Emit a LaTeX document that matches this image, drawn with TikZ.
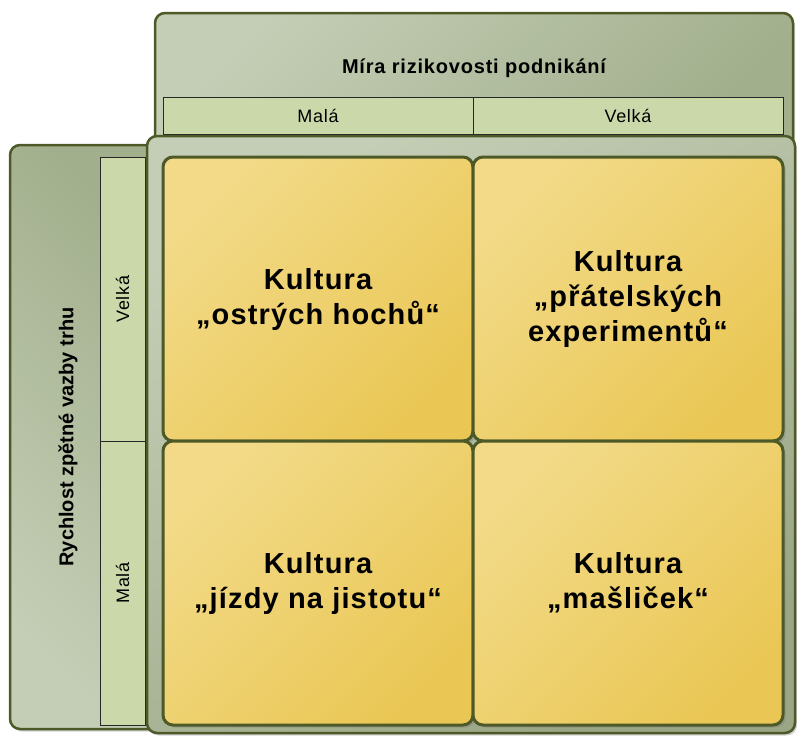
\documentclass[tikz,border=0pt]{standalone}
\usepackage{fontspec}
\setmainfont{Liberation Sans}
\usetikzlibrary{positioning,shadows}
\definecolor{mossline}{HTML}{4E5928}
\definecolor{sagelight}{HTML}{C4CEB6}
\definecolor{sagedark}{HTML}{A2AF8C}
\definecolor{cellgreen}{HTML}{CBD9AA}
\definecolor{goldlight}{HTML}{F2DA88}
\definecolor{golddark}{HTML}{EAC755}
\newcommand{\quadfont}{\fontsize{29}{35}\selectfont\bfseries\addfontfeature{LetterSpace=4}}
\newcommand{\titlefont}{\fontsize{20}{24}\selectfont\bfseries\addfontfeature{LetterSpace=4}}
\newcommand{\sidefont}{\fontsize{20}{24}\selectfont\bfseries}
\newcommand{\labfont}{\fontsize{18}{22}\selectfont\addfontfeature{LetterSpace=4}}

\begin{document}
\begin{tikzpicture}[x=1pt,y=-1pt,node distance=0pt,
 panel/.style={draw=mossline,line width=2.5pt,rounded corners=10pt,inner sep=0pt,outer sep=0pt,
  drop shadow={shadow xshift=2pt,shadow yshift=-2.5pt,opacity=.35}},
 hcell/.style={draw=black!85,line width=.8pt,fill=cellgreen,inner sep=0pt,outer sep=0pt,font=\labfont},
 quad/.style={draw=mossline,line width=3pt,rounded corners=10pt,inner sep=0pt,outer sep=0pt,
  top color=goldlight,bottom color=golddark,shading angle=45,align=center,font=\quadfont,
  minimum width=310pt,minimum height=284pt,
  drop shadow={shadow xshift=2.5pt,shadow yshift=-2.5pt,opacity=.4}}]
 \useasboundingbox (0,0) rectangle (797,736);
 % top header: risk
 \node[panel,top color=sagelight,bottom color=sagedark,shading angle=45,
  minimum width=638pt,minimum height=140pt,anchor=north west] (riskpanel) at (155,13) {};
 \node[font=\titlefont] (risktitle) at (474,68) {Míra rizikovosti podnikání};
 \node[hcell,minimum width=310pt,minimum height=37pt,anchor=north west] (lowrisk) at (163,97) {Malá};
 \node[hcell,minimum width=310pt,minimum height=37pt,right=of lowrisk] (highrisk) {Velká};
 % left header: feedback speed
 \node[panel,top color=sagedark,bottom color=sagelight,shading angle=-45,
  minimum width=150pt,minimum height=584pt,anchor=north west] (speedpanel) at (10,145) {};
 \node[font=\sidefont,rotate=90] (speedtitle) at (68,437) {Rychlost zpětné vazby trhu};
 \node[hcell,rotate=90,minimum width=284pt,minimum height=45pt] (fastfb) at (122.5,299) {Velká};
 \node[hcell,rotate=90,minimum width=284pt,minimum height=45pt] (slowfb) at (122.5,583) {Malá};
 % matrix
 \node[panel,top color=sagelight,bottom color=sagedark!95!black,shading angle=30,
  minimum width=648pt,minimum height=597pt,anchor=north west] (mainpanel) at (147,136) {};
 \node[quad,anchor=north west] (sharp) at (163,157) {Kultura\\„ostrých hochů“};
 \node[quad,right=of sharp] (friendly) {Kultura\\„přátelských\\experimentů“};
 \node[quad,below=of sharp] (safe) {Kultura\\„jízdy na jistotu“};
 \node[quad,right=of safe] (bows) {Kultura\\„mašliček“};
\end{tikzpicture}
\end{document}
